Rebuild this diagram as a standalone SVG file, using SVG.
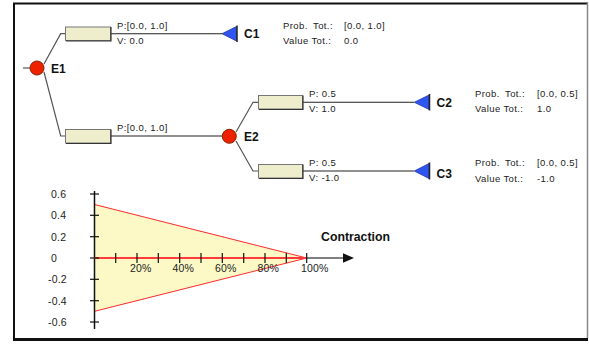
<svg xmlns="http://www.w3.org/2000/svg" width="589" height="344" viewBox="0 0 589 344">
<style>
.sm{font-family:"Liberation Sans",Arial,sans-serif;font-size:9.5px;letter-spacing:0.4px;fill:#222}
.lb{font-family:"Liberation Sans",Arial,sans-serif;font-size:12px;font-weight:bold;fill:#111}
.ax{font-family:"Liberation Sans",Arial,sans-serif;font-size:10.5px;letter-spacing:0.2px;fill:#222}
.br{fill:#eeeecc;stroke:#777;stroke-width:1}
.sh{fill:none;stroke:#333;stroke-width:1.2}
.ev{fill:#ee2200;stroke:#882200;stroke-width:1}
.co{fill:#2f55f0;stroke:#2233aa;stroke-width:0.8}
.cl{fill:none;stroke:#555;stroke-width:1.2}
.hl{fill:none;stroke:#222;stroke-width:1.1}
.tk{stroke:#111;stroke-width:1.2}
</style>
<rect x="0" y="0" width="589" height="344" fill="#fff"/>
<g id="frame">
<line x1="13" y1="3.5" x2="588" y2="3.5" stroke="#111" stroke-width="2"/>
<line x1="14" y1="3" x2="14" y2="340" stroke="#111" stroke-width="2"/>
<line x1="13" y1="339.5" x2="588" y2="339.5" stroke="#111" stroke-width="3"/>
<line x1="587.5" y1="3" x2="587.5" y2="338" stroke="#888" stroke-width="1.5"/>
</g>
<g id="connectors">
<line class="cl" x1="23" y1="68" x2="30" y2="68"/>
<polyline class="cl" points="44,64 60.7,33.7 65,33.7"/>
<polyline class="cl" points="44,72 60.7,136 65,136"/>
<line class="hl" x1="111" y1="33.7" x2="222" y2="33.7"/>
<line class="hl" x1="111" y1="136" x2="222" y2="136"/>
<polyline class="cl" points="236,132 253,102.3 258,102.3"/>
<polyline class="cl" points="236,141 253,171 258,171"/>
<line class="hl" x1="303" y1="102.3" x2="414" y2="102.3"/>
<line class="hl" x1="303" y1="171" x2="414" y2="171"/>
</g>
<g id="b1"><rect class="br" x="65.5" y="27" width="45" height="13.5"/><polyline class="sh" points="66,41 111,41 111,27"/>
<text class="sm" x="117" y="29">P:[0.0, 1.0]</text><text class="sm" x="117" y="43.5">V: 0.0</text></g>
<g id="b2"><rect class="br" x="65.5" y="129.5" width="45" height="13.5"/><polyline class="sh" points="66,143.5 111,143.5 111,129.5"/>
<text class="sm" x="117" y="131">P:[0.0, 1.0]</text></g>
<g id="b3"><rect class="br" x="258.5" y="95.5" width="44" height="13.5"/><polyline class="sh" points="259,109.5 303,109.5 303,95.5"/>
<text class="sm" x="309" y="97">P: 0.5</text><text class="sm" x="309" y="112">V: 1.0</text></g>
<g id="b4"><rect class="br" x="258.5" y="164.5" width="44" height="13.5"/><polyline class="sh" points="259,178.5 303,178.5 303,164.5"/>
<text class="sm" x="309" y="166">P: 0.5</text><text class="sm" x="309" y="181">V: -1.0</text></g>
<g id="E1"><circle class="ev" cx="37" cy="68" r="7"/><text class="lb" x="51" y="73">E1</text></g>
<g id="E2"><circle class="ev" cx="229.3" cy="136.3" r="7"/><text class="lb" x="244" y="141">E2</text></g>
<g id="C1"><polygon class="co" points="222,33.7 236.5,26.5 236.5,41"/><line x1="237" y1="25.5" x2="237" y2="42" stroke="#222" stroke-width="1.5"/>
<text class="lb" x="244" y="38">C1</text>
<text class="sm" x="283" y="28.5">Prob.</text><text class="sm" x="313" y="28.5">Tot.:</text><text class="sm" x="344" y="28.5">[0.0, 1.0]</text>
<text class="sm" x="283" y="43.5">Value Tot.:</text><text class="sm" x="344" y="43.5">0.0</text></g>
<g id="C2"><polygon class="co" points="414.3,102.3 429,95 429,109.5"/><line x1="429.5" y1="94" x2="429.5" y2="110.5" stroke="#222" stroke-width="1.5"/>
<text class="lb" x="436.5" y="107">C2</text>
<text class="sm" x="475" y="97">Prob.</text><text class="sm" x="505" y="97">Tot.:</text><text class="sm" x="537" y="97">[0.0, 0.5]</text>
<text class="sm" x="475" y="112">Value Tot.:</text><text class="sm" x="537" y="112">1.0</text></g>
<g id="C3"><polygon class="co" points="414.3,171 429,163.5 429,178.5"/><line x1="429.5" y1="162.5" x2="429.5" y2="179.5" stroke="#222" stroke-width="1.5"/>
<text class="lb" x="436.5" y="178">C3</text>
<text class="sm" x="475" y="166">Prob.</text><text class="sm" x="505" y="166">Tot.:</text><text class="sm" x="537" y="166">[0.0, 0.5]</text>
<text class="sm" x="475" y="182">Value Tot.:</text><text class="sm" x="537" y="182">-1.0</text></g>
<g id="chart">
<polygon points="94.5,204.5 306.7,258 94.5,311.3" fill="#fcf9c6" stroke="#ff2a2a" stroke-width="1"/>
<line x1="94.5" y1="191" x2="94.5" y2="329" stroke="#111" stroke-width="1.5"/>
<line x1="94.5" y1="258" x2="344" y2="258" stroke="#555" stroke-width="1.5"/>
<polygon points="343,253.3 354,258 343,262.7" fill="#111"/>
<line x1="94.5" y1="258" x2="306.7" y2="258" stroke="#ff3a3a" stroke-width="2"/>
<g class="tk">
<line x1="90" y1="194" x2="99" y2="194"/><line x1="90" y1="215.3" x2="99" y2="215.3"/><line x1="90" y1="236.7" x2="99" y2="236.7"/><line x1="90" y1="258" x2="99" y2="258"/><line x1="90" y1="279.3" x2="99" y2="279.3"/><line x1="90" y1="300.7" x2="99" y2="300.7"/><line x1="90" y1="322" x2="99" y2="322"/>
<line x1="115.7" y1="253" x2="115.7" y2="263"/><line x1="137" y1="253" x2="137" y2="263"/><line x1="158.3" y1="253" x2="158.3" y2="263"/><line x1="179.7" y1="253" x2="179.7" y2="263"/><line x1="201" y1="253" x2="201" y2="263"/><line x1="222.3" y1="253" x2="222.3" y2="263"/><line x1="243.7" y1="253" x2="243.7" y2="263"/><line x1="265" y1="253" x2="265" y2="263"/><line x1="286.3" y1="253" x2="286.3" y2="263"/><line x1="306.7" y1="253" x2="306.7" y2="263"/>
</g>
<text class="ax" x="51" y="198">0.6</text><text class="ax" x="51" y="219.3">0.4</text><text class="ax" x="51" y="240.7">0.2</text><text class="ax" x="51" y="262">0</text>
<text class="ax" x="48" y="283.3">-0.2</text><text class="ax" x="48" y="304.7">-0.4</text><text class="ax" x="48" y="326">-0.6</text>
<text class="ax" x="130" y="272">20%</text><text class="ax" x="172.5" y="272">40%</text><text class="ax" x="215" y="272">60%</text><text class="ax" x="257.5" y="272">80%</text><text class="ax" x="301" y="272">100%</text>
<text x="321" y="241" font-family="'Liberation Sans',Arial,sans-serif" font-size="12.3" font-weight="bold" fill="#111">Contraction</text>
</g>
</svg>
